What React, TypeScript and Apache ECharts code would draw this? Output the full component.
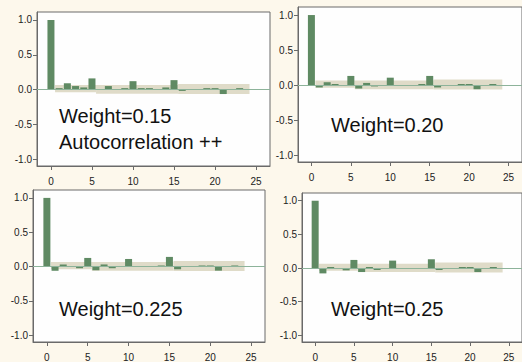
import React, { useEffect, useRef } from "react";
import * as echarts from "echarts";

const lags = [0, 1, 2, 3, 4, 5, 6, 7, 8, 9, 10, 11, 12, 13, 14, 15, 16, 17, 18, 19, 20, 21, 22, 23];

const acfW015 = [1.0, 0.02, 0.09, 0.05, 0.03, 0.16, 0.0, 0.05, 0.0, 0.02, 0.12, 0.02, 0.02, 0.0, 0.03, 0.135, -0.02, 0.0, 0.0, 0.02, 0.02, -0.065, 0.0, 0.02];
const acfW020 = [1.0, -0.035, 0.04, 0.015, 0.0, 0.13, -0.05, 0.03, -0.02, 0.0, 0.105, 0.0, 0.0, 0.0, 0.015, 0.13, -0.035, 0.0, 0.0, 0.015, 0.015, -0.06, 0.0, 0.015];
const acfW0225 = [1.0, -0.062, 0.03, 0.0, -0.025, 0.125, -0.055, 0.03, -0.025, 0.0, 0.11, 0.0, 0.0, 0.0, 0.015, 0.14, -0.04, 0.0, 0.0, 0.015, 0.015, -0.06, 0.0, 0.015];
const acfW025 = [1.0, -0.08, 0.015, -0.015, -0.035, 0.12, -0.06, 0.015, -0.03, -0.015, 0.11, 0.0, 0.0, 0.0, 0.0, 0.13, -0.03, 0.0, 0.0, 0.015, 0.015, -0.06, 0.0, 0.015];

// confidence band segments
const bandStart = [0.5, 5.5, 15.5];
const bandEnd = [5.5, 15.5, 24.2];
const bandLow = [-0.04, -0.06, -0.065];
const bandHigh = [0.065, 0.065, 0.08];

const xTicks = [0, 5, 10, 15, 20, 25];
const yTicks = [-1.0, -0.5, 0.0, 0.5, 1.0];

const labelsW015 = ["Weight=0.15", "Autocorrelation ++"];
const labelsW020 = ["Weight=0.20"];
const labelsW0225 = ["Weight=0.225"];
const labelsW025 = ["Weight=0.25"];

const FONT = "'Liberation Sans', Arial, sans-serif";
const FRAME = "#6a6a6a";
const BAR = "#5f8a63";
const BAND = "#dfdbc8";
const ZERO = "#8db39a";

const panels = [
  { left: 37, top: 12, width: 233, height: 154, data: acfW015, labels: labelsW015, tx: 59, ty: 115.5 },
  { left: 298, top: 7, width: 233, height: 155, data: acfW020, labels: labelsW020, tx: 331, ty: 125 },
  { left: 33, top: 190, width: 232, height: 153, data: acfW0225, labels: labelsW0225, tx: 59, ty: 309 },
  { left: 302, top: 193, width: 233, height: 154, data: acfW025, labels: labelsW025, tx: 331, ty: 309 },
];

export default function App() {
  const ref = useRef<HTMLDivElement>(null);
  useEffect(() => {
    if (!ref.current) return;
    const chart = echarts.init(ref.current, undefined, { renderer: "svg" });
    const series: any[] = [];
    panels.forEach((p, i) => {
      series.push({
        type: "line",
        xAxisIndex: i,
        yAxisIndex: i,
        data: [],
        z: 1,
        silent: true,
        markArea: {
          silent: true,
          itemStyle: { color: BAND, opacity: 1 },
          data: bandStart.map((s, k) => [
            { coord: [s, bandLow[k]] },
            { coord: [bandEnd[k], bandHigh[k]] },
          ]),
        },
      });
      series.push({
        type: "line",
        xAxisIndex: i,
        yAxisIndex: i,
        data: [],
        z: 2,
        silent: true,
        markLine: {
          silent: true,
          symbol: "none",
          label: { show: false },
          lineStyle: { color: ZERO, width: 1, type: "solid" },
          data: [{ yAxis: 0 }],
        },
      });
      series.push({
        type: "bar",
        xAxisIndex: i,
        yAxisIndex: i,
        z: 3,
        barWidth: 7,
        itemStyle: { color: BAR },
        data: p.data.map((v, k) => [lags[k], v]),
      });
    });

    const graphics: any[] = [];
    panels.forEach((p) => {
      p.labels.forEach((t, k) => {
        graphics.push({
          type: "text",
          x: p.tx,
          y: p.ty + k * 26.5,
          z: 100,
          style: {
            text: t,
            fill: "#111",
            font: `20px ${FONT}`,
            textAlign: "left",
            textVerticalAlign: "middle",
          },
        });
      });
    });

    chart.setOption({
      animation: false,
      backgroundColor: "#fdf8ec",
      grid: panels.map((p) => ({
        left: p.left,
        top: p.top,
        width: p.width,
        height: p.height,
        show: true,
        backgroundColor: "#fefefe",
        borderColor: FRAME,
        borderWidth: 1,
      })),
      xAxis: panels.map((p, i) => ({
        type: "value",
        gridIndex: i,
        min: -1.7,
        max: 26.7,
        axisLine: { show: true, onZero: false, lineStyle: { color: FRAME } },
        axisTick: { show: true, length: 4, customValues: xTicks, lineStyle: { color: FRAME } },
        axisLabel: { customValues: xTicks, fontSize: 10, color: "#222", fontFamily: FONT, margin: 10 },
        splitLine: { show: false },
      })),
      yAxis: panels.map((p, i) => ({
        type: "value",
        gridIndex: i,
        min: -1.1,
        max: 1.115,
        axisLine: { show: true, onZero: false, lineStyle: { color: FRAME } },
        axisTick: { show: true, length: 4, customValues: yTicks, lineStyle: { color: FRAME } },
        axisLabel: {
          customValues: yTicks,
          fontSize: 10,
          color: "#222",
          fontFamily: FONT,
          margin: 5,
          formatter: (v: number) => v.toFixed(1),
        },
        splitLine: { show: false },
      })),
      series,
      graphic: graphics,
    });
    return () => chart.dispose();
  }, []);
  return (
    <div
      ref={ref}
      style={{ position: "fixed", left: 0, top: 0, width: 522, height: 362, overflow: "hidden" }}
    />
  );
}
